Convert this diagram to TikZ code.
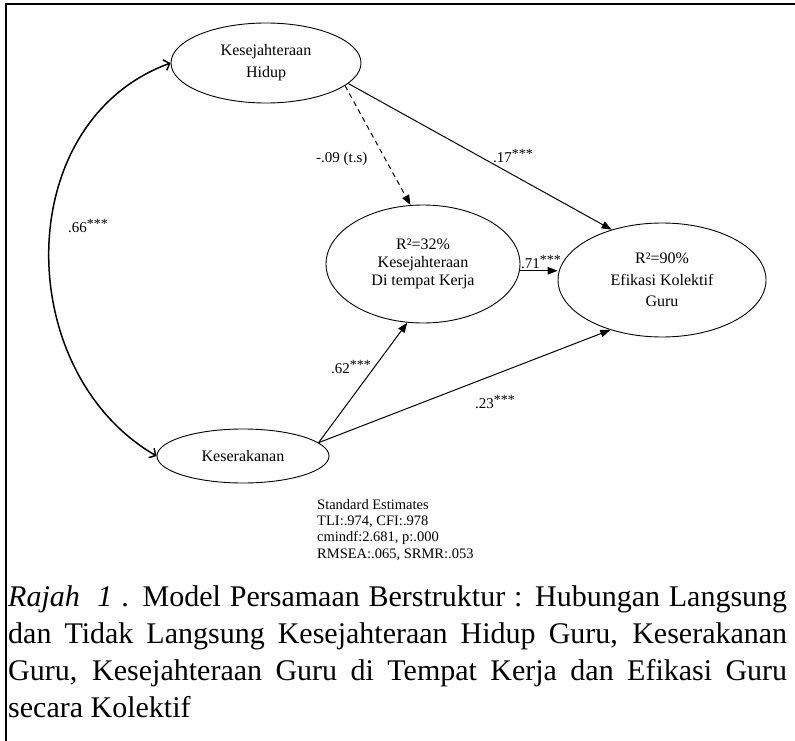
\documentclass[tikz,border=0pt]{standalone}
\usepackage{fontspec}
\setmainfont{Liberation Serif}
\usetikzlibrary{shapes.geometric,arrows.meta}
\newcommand{\stars}{\raisebox{3.5pt}{\fontsize{14}{14}\selectfont ***}}
\tikzset{
  latent/.style={ellipse, draw, line width=0.9pt, inner sep=0pt, align=center},
  effect/.style={line width=1pt, -{Triangle[length=10pt,width=7.5pt]}},
  corr/.style={line width=1.5pt, {Straight Barb[length=5pt,width=11pt]}-{Straight Barb[length=5pt,width=11pt]}},
  est/.style={inner sep=0pt, anchor=base west, font=\fontsize{15}{17}\selectfont},
  capline/.style={inner sep=0pt, anchor=base west, font=\fontsize{30}{37}\selectfont},
}

\begin{document}
\begin{tikzpicture}[x=1pt, y=-1pt]
  \useasboundingbox (0,0) rectangle (795,741);

  %%%%% frame %%%%%
  \draw[line width=1.8pt] (5,4) -- (795,4);
  \draw[line width=1.8pt] (6,4) -- (6,741);

  %%%%% latent variables %%%%%
  \node[latent, minimum width=190pt, minimum height=80pt, font=\fontsize{16}{22}\selectfont] (kh) at (266,63) {Kesejahteraan\\Hidup};
  \node[latent, minimum width=194pt, minimum height=118pt, font=\fontsize{16}{18}\selectfont] (kdk) at (423,264) {R²=32\%\\Kesejahteraan\\Di tempat Kerja};
  \node[latent, minimum width=208pt, minimum height=114pt, font=\fontsize{16}{21.5}\selectfont] (ekg) at (662,280) {R²=90\%\\Efikasi Kolektif\\Guru};
  \node[latent, minimum width=172pt, minimum height=54pt, font=\fontsize{16}{18}\selectfont] (ks) at (243,456) {Keserakanan};

  %%%%% paths %%%%%
  \draw[effect, dash pattern=on 5pt off 4pt] (kh.-16) -- (kdk.102);
  \draw[effect] (kh.-14) -- (ekg.135);
  \draw[effect] (kdk.-4) -- (kdk.-4 -| ekg.west);
  \draw[effect] (ks.10) -- (kdk.-105);
  \draw[effect] (ks.10) -- (ekg.-136);
  \draw[corr] (kh.west) .. controls (10,122) and (12,372) .. (ks.west);

  %%%%% estimates %%%%%
  \node[est] (e66) at (68,232) {.66\stars};
  \node[est] (e09) at (316,163) {-.09 (t.s)};
  \node[est] (e17) at (493,162) {.17\stars};
  \node[est] (e71) at (521,268) {.71\stars};
  \node[est] (e62) at (331,373) {.62\stars};
  \node[est] (e23) at (475,408) {.23\stars};

  %%%%% fit indices %%%%%
  \node[inner sep=0pt, anchor=north west, align=left, font=\fontsize{14.5}{16.3}\selectfont] (fit) at (317,499)
    {Standard Estimates\\TLI:.974, CFI:.978\\cmindf:2.681, p:.000\\RMSEA:.065, SRMR:.053};

  %%%%% caption %%%%%
  \node[capline] (cap1) at (8,606) {\makebox[779pt][s]{\textit{Rajah\ \ 1} . Model Persamaan Berstruktur : Hubungan Langsung}};
  \node[capline] (cap2) at (8,643) {\makebox[779pt][s]{dan Tidak Langsung Kesejahteraan Hidup Guru, Keserakanan}};
  \node[capline] (cap3) at (8,680) {\makebox[779pt][s]{Guru, Kesejahteraan Guru di Tempat Kerja dan Efikasi Guru}};
  \node[capline] (cap4) at (8,717) {secara Kolektif};
\end{tikzpicture}
\end{document}
